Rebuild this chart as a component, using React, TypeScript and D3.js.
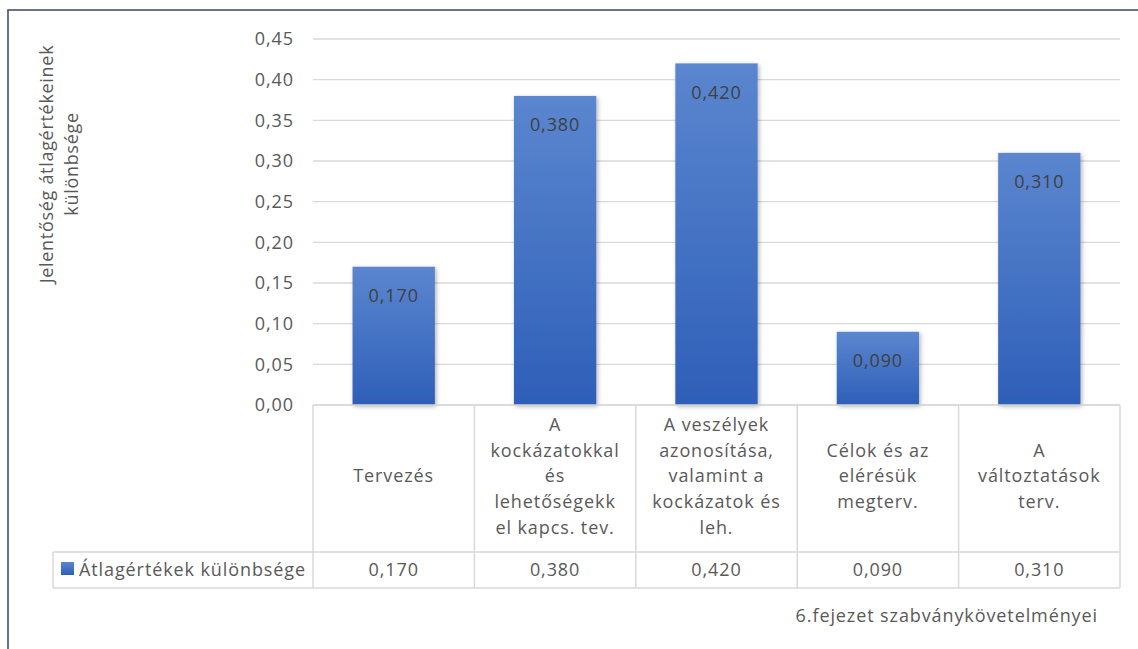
import React from "react";
import * as d3 from "d3";

const categories: string[][] = [
  ["Tervezés"],
  ["A", "kockázatokkal", "és", "lehetőségekk", "el kapcs. tev."],
  ["A veszélyek", "azonosítása,", "valamint a", "kockázatok és", "leh."],
  ["Célok és az", "elérésük", "megterv."],
  ["A", "változtatások", "terv."],
];
const values: number[] = [0.17, 0.38, 0.42, 0.09, 0.31];
const yTicks: number[] = [0, 0.05, 0.1, 0.15, 0.2, 0.25, 0.3, 0.35, 0.4, 0.45];
const seriesName = "Átlagértékek különbsége";
const yTitle = ["Jelentőség átlagértékeinek", "különbsége"];
const xTitle = "6.fejezet szabványkövetelményei";

const W = 1138;
const H = 649;
const FONT = "'Open Sans', 'DejaVu Sans', sans-serif";
const LS = 0.9;

export default function App() {
  const left = 313;
  const right = 1120;
  const yBase = 405;
  const yTopPx = 39;
  const row1 = 552;
  const row2 = 588;

  const keys = categories.map((_, i) => String(i));
  const x = d3.scaleBand<string>().domain(keys).range([left, right]).paddingInner(0).paddingOuter(0);
  const y = d3.scaleLinear().domain([0, 0.45]).range([yBase, yTopPx]);
  const bw = x.bandwidth();
  const barW = bw * 0.51;
  const fmt2 = (v: number) => d3.format(".2f")(v).replace(".", ",");
  const fmt3 = (v: number) => d3.format(".3f")(v).replace(".", ",");
  const lineH = 25.7;
  const gridColor = "#d9d9d9";

  return (
    <svg
      width={W}
      height={H}
      style={{ position: "absolute", left: 0, top: 0, background: "#fff" }}
      fontFamily={FONT}
      letterSpacing={LS}
    >
      <defs>
        <linearGradient id="barGrad" x1="0" y1="0" x2="0" y2="1">
          <stop offset="0" stopColor="#5b86cf" />
          <stop offset="1" stopColor="#2e5fb8" />
        </linearGradient>
        <filter id="shadow" x="-20%" y="-20%" width="140%" height="140%">
          <feDropShadow dx="1.5" dy="1.5" stdDeviation="2" floodColor="#000" floodOpacity="0.3" />
        </filter>
      </defs>
      <rect x={0} y={0} width={W} height={H} fill="#fff" />
      <rect x={8} y={10} width={W + 20} height={H + 20} fill="none" stroke="#44546a" strokeWidth={1.6} />

      {/* gridlines */}
      {yTicks.map((t) => (
        <line key={"g" + t} x1={left} x2={right} y1={y(t)} y2={y(t)} stroke={gridColor} strokeWidth={1.3} />
      ))}
      {/* y tick labels */}
      {yTicks.map((t) => (
        <text key={"t" + t} x={294} y={y(t)} dy="0.35em" textAnchor="end" fontSize={18} fill="#595959">
          {fmt2(t)}
        </text>
      ))}

      {/* bars */}
      {values.map((v, i) => {
        const cx = (x(String(i)) as number) + bw / 2;
        return (
          <g key={"b" + i}>
            <rect
              x={cx - barW / 2}
              y={y(v)}
              width={barW}
              height={yBase - y(v)}
              fill="url(#barGrad)"
              filter="url(#shadow)"
            />
            <text x={cx} y={y(v) + 29} dy="0.35em" textAnchor="middle" fontSize={18} fill="#404040">
              {fmt3(v)}
            </text>
          </g>
        );
      })}

      {/* table */}
      <line x1={left} x2={right} y1={yBase} y2={yBase} stroke={gridColor} strokeWidth={1.5} />
      <line x1={53} x2={right} y1={row1} y2={row1} stroke={gridColor} strokeWidth={1.5} />
      <line x1={53} x2={right} y1={row2} y2={row2} stroke={gridColor} strokeWidth={1.5} />
      <line x1={53} x2={53} y1={row1} y2={row2} stroke={gridColor} strokeWidth={1.5} />
      {keys.map((k) => (
        <line key={"v" + k} x1={x(k) as number} x2={x(k) as number} y1={yBase} y2={row2} stroke={gridColor} strokeWidth={1.5} />
      ))}
      <line x1={right} x2={right} y1={yBase} y2={row2} stroke={gridColor} strokeWidth={1.5} />

      {categories.map((lines, i) => {
        const cx = (x(String(i)) as number) + bw / 2;
        const mid = 476;
        const start = mid - ((lines.length - 1) * lineH) / 2;
        return (
          <text key={"c" + i} textAnchor="middle" fontSize={18} fill="#595959">
            {lines.map((ln, j) => (
              <tspan key={j} x={cx} y={start + j * lineH} dy="0.35em">
                {ln}
              </tspan>
            ))}
          </text>
        );
      })}
      {values.map((v, i) => {
        const cx = (x(String(i)) as number) + bw / 2;
        return (
          <text key={"val" + i} x={cx} y={570} dy="0.35em" textAnchor="middle" fontSize={18} fill="#595959">
            {fmt3(v)}
          </text>
        );
      })}
      <rect x={61} y={562} width={13} height={13} fill="url(#barGrad)" />
      <text x={79} y={570} dy="0.35em" fontSize={18} fill="#595959">
        {seriesName}
      </text>

      {/* axis titles */}
      <g transform="translate(53,164) rotate(-90)">
        <text textAnchor="middle" fontSize={18} fill="#595959" letterSpacing={0.7}>
          <tspan x={0} y={0}>{yTitle[0]}</tspan>
          <tspan x={0} y={25}>{yTitle[1]}</tspan>
        </text>
      </g>
      <text x={1098} y={616} dy="0.35em" textAnchor="end" fontSize={18} fill="#595959">
        {xTitle}
      </text>
    </svg>
  );
}
